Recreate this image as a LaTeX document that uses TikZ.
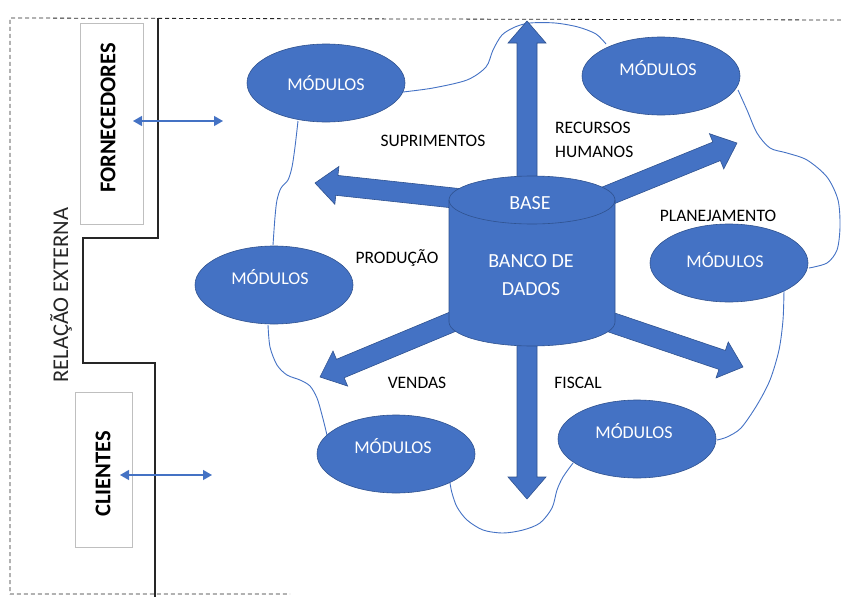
\documentclass[tikz,border=0pt]{standalone}
\usepackage{fontspec}
\setmainfont{Carlito}
\usetikzlibrary{arrows.meta,calc,shapes.geometric}
\definecolor{obl}{HTML}{4472C4}
\definecolor{oed}{HTML}{2F528F}
\newcommand\dbArrow[2]{%
  \path let \p1=(#1), \p2=(#2),
    \n1={atan2(\y2-\y1,\x2-\x1)}, \n2={veclen(\x2-\x1,\y2-\y1)} in
    \pgfextra{\xdef\baAng{\n1}\xdef\baLen{\n2}};
  \begin{scope}[shift={(#1)}, rotate=\baAng]
    \filldraw[barrow] (0,-10) -- ({\baLen-22},-10) -- ({\baLen-22},-19) -- (\baLen,0)
      -- ({\baLen-22},19) -- ({\baLen-22},10) -- (0,10) -- cycle;
  \end{scope}}
\begin{document}
\begin{tikzpicture}[x=1pt,y=-1pt,
  barrow/.style={fill=obl, draw=oed, line width=0.6pt},
  mod/.style={ellipse, fill=obl, draw=oed, line width=0.6pt, minimum width=158pt, minimum height=78pt, inner sep=0pt},
  modtxt/.style={text=white, font=\fontsize{18}{21}\selectfont, inner sep=0pt},
  lab/.style={text=black, font=\fontsize{17.5}{23.5}\selectfont, inner sep=0pt},
  dbtxt/.style={text=white, font=\fontsize{20}{28}\selectfont, inner sep=0pt, align=center},
  cloud/.style={draw=obl, line width=0.9pt},
  border/.style={draw=black!85, dashed, dash pattern=on 4pt off 3pt, line width=0.8pt},
  step line/.style={draw=black!85, line width=1.4pt},
  extbox/.style={draw=black!25, line width=1pt},
  dbl/.style={draw=obl, line width=1.3pt, {Triangle[length=9pt,width=10pt]}-{Triangle[length=9pt,width=10pt]}}
]
\useasboundingbox (0,0) rectangle (841,597);

% outer dashed border
\draw[border] (841,20) -- (10,18) -- (10,594) -- (290,594);
% stepped black line
\draw[step line] (158,18) -- (158,238) -- (83,238) -- (83,363) -- (155,363) -- (155,597);

% external boxes
\draw[extbox] (80,23) rectangle (143,224);
\draw[extbox] (75,392) rectangle (132,547);
\node[rotate=90, font=\fontsize{22.5}{25}\selectfont\bfseries, inner sep=0pt] (forn) at (108,118) {FORNECEDORES};
\node[rotate=90, font=\fontsize{22.5}{25}\selectfont\bfseries, inner sep=0pt] (cli) at (103,474) {CLIENTES};
\node[rotate=90, font=\fontsize{22.5}{26}\selectfont, inner sep=0pt, text=black!85] (rel) at (61,295) {RELAÇÃO EXTERNA};

% module ellipses
\node[mod] (m1) at (326,83) {};
\node[mod] (m2) at (661,76) {};
\node[mod] (m3) at (729,263) {};
\node[mod] (m4) at (637,439) {};
\node[mod] (m5) at (396,454) {};
\node[mod] (m6) at (274,285) {};
\node[modtxt] (t1) at (326,83) {MÓDULOS};
\node[modtxt] (t2) at (658,68) {MÓDULOS};
\node[modtxt] (t3) at (725,260) {MÓDULOS};
\node[modtxt] (t4) at (634,431) {MÓDULOS};
\node[modtxt] (t5) at (393,446) {MÓDULOS};
\node[modtxt] (t6) at (270,277) {MÓDULOS};

% cloud outline
\draw[cloud] plot[smooth] coordinates {(403,92) (433,88) (467,80) (486,67) (493,50) (502,35) (515,27) (530,23) (555,23) (578,27) (596,34) (606,44)};
\draw[cloud] plot[smooth] coordinates {(738,90) (747,110) (757,133) (770,148) (787,153) (807,160) (827,177) (838,200) (840,227) (837,250) (827,263) (809,268)};
\draw[cloud] plot[smooth] coordinates {(784,290) (783,320) (779,350) (770,380) (757,405) (741,428) (727,437) (717,440)};
\draw[cloud] plot[smooth] coordinates {(573,463) (563,477) (557,490) (552,508) (540,523) (523,530) (503,533) (483,530) (467,520) (457,507) (452,493) (450,483)};
\draw[cloud] plot[smooth] coordinates {(268,325) (270,347) (277,365) (287,375) (300,380) (310,386) (317,398) (322,415) (327,435)};
\draw[cloud] plot[smooth] coordinates {(273,245) (275,217) (277,200) (281,188) (288,180) (292,167) (295,147) (298,121)};

% block arrows from the database
\coordinate (sU) at (527,250);  \coordinate (eU) at (527,21);
\coordinate (sD) at (527,300);  \coordinate (eD) at (527,499);
\coordinate (sLU) at (500,203); \coordinate (eLU) at (315,183);
\coordinate (sRU) at (560,215); \coordinate (eRU) at (737,143);
\coordinate (sRL) at (560,305); \coordinate (eRL) at (743,367);
\coordinate (sLL) at (500,302); \coordinate (eLL) at (320,377);
\dbArrow{sU}{eU}
\dbArrow{sD}{eD}
\dbArrow{sLU}{eLU}
\dbArrow{sRU}{eRU}
\dbArrow{sRL}{eRL}
\dbArrow{sLL}{eLL}

% database cylinder
\filldraw[fill=obl, draw=oed, line width=0.6pt]
  (449,200) -- (449,322) arc[start angle=180, end angle=0, x radius=83, y radius=24]
  -- (615,200) arc[start angle=0, end angle=-180, x radius=83, y radius=24] -- cycle;
\draw[oed, line width=0.6pt] (449,200) arc[start angle=180, end angle=0, x radius=83, y radius=24];
\node[dbtxt] (base) at (530,203) {BASE};
\node[dbtxt] (banco) at (531,275) {BANCO DE\\DADOS};

% labels
\node[lab] (lsup) at (433,141) {SUPRIMENTOS};
\node[lab, anchor=west, align=left] (lrh) at (555,140) {RECURSOS\\HUMANOS};
\node[lab] (lpla) at (718,216) {PLANEJAMENTO};
\node[lab] (lpro) at (397,258) {PRODUÇÃO};
\node[lab] (lven) at (417,383) {VENDAS};
\node[lab] (lfis) at (578,383) {FISCAL};

% external double arrows
\coordinate (fa) at (133,121); \coordinate (fb) at (223,121);
\coordinate (ca) at (120,475); \coordinate (cb) at (212,475);
\draw[dbl] (fa) -- (fb);
\draw[dbl] (ca) -- (cb);
\end{tikzpicture}
\end{document}
